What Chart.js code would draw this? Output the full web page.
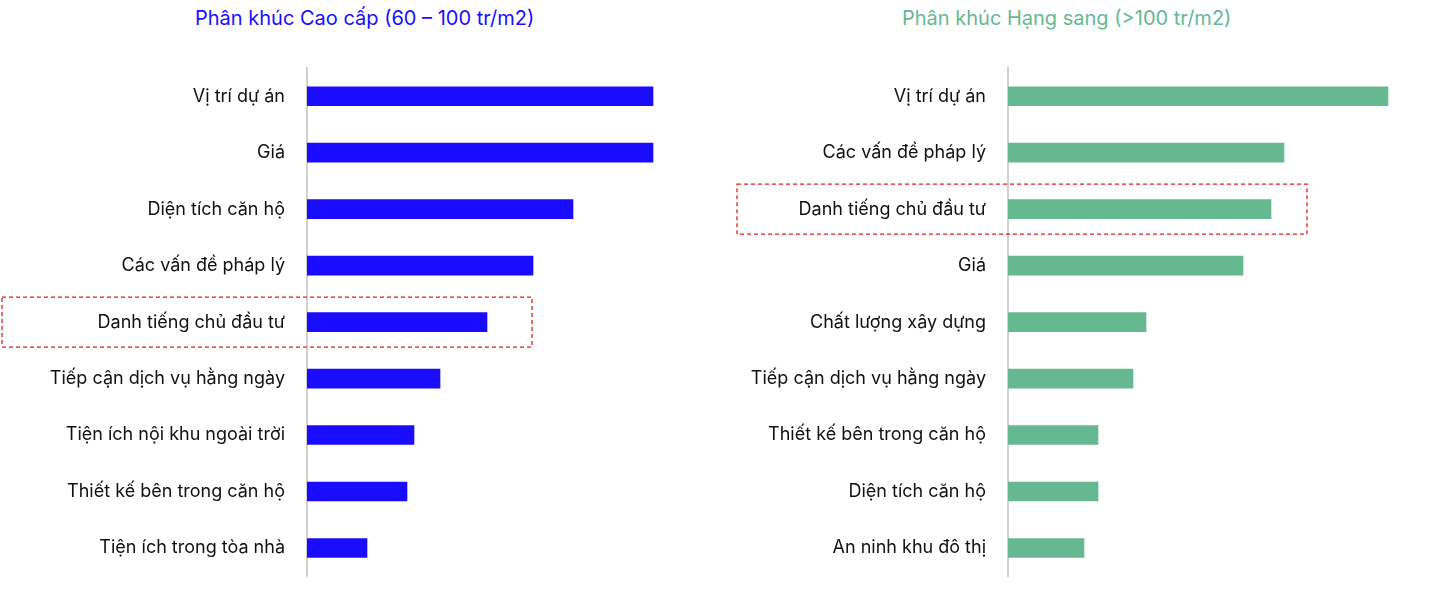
<!DOCTYPE html>
<html><head><meta charset="utf-8">
<script src="https://cdn.jsdelivr.net/npm/chart.js@4"></script>
<style>
body{margin:0;background:#fff;width:1445px;height:609px;position:relative;overflow:hidden;font-family:Inter,sans-serif}
.t{position:absolute;top:6px;font-size:20px;white-space:nowrap}
.w{position:absolute;top:0;height:609px}
</style></head><body>
<div class="t" style="left:195px;color:#1a0dff">Phân khúc Cao cấp (60 – 100 tr/m2)</div>
<div class="t" style="left:902px;color:#66b891">Phân khúc Hạng sang (&gt;100 tr/m2)</div>
<div class="w" style="left:0;width:720px"><canvas id="c1"></canvas></div>
<div class="w" style="left:700px;width:745px"><canvas id="c2"></canvas></div>
<script>
// left: premium segment
const catsCaoCap = ['Vị trí dự án','Giá','Diện tích căn hộ','Các vấn đề pháp lý','Danh tiếng chủ đầu tư','Tiếp cận dịch vụ hằng ngày','Tiện ích nội khu ngoài trời','Thiết kế bên trong căn hộ','Tiện ích trong tòa nhà'];
const valsCaoCap = [346, 346, 266, 226, 180, 133, 107, 100, 60];
// right: luxury segment
const catsHangSang = ['Vị trí dự án','Các vấn đề pháp lý','Danh tiếng chủ đầu tư','Giá','Chất lượng xây dựng','Tiếp cận dịch vụ hằng ngày','Thiết kế bên trong căn hộ','Diện tích căn hộ','An ninh khu đô thị'];
const valsHangSang = [380, 276, 263, 235, 138, 125, 90, 90, 76];

// dashed red box around a highlighted category
const boxPlugin = {
  id: 'box',
  afterDraw(ch, args, o) {
    const y = ch.scales.y.getPixelForValue(o.idx), c = ch.ctx;
    c.save();
    c.strokeStyle = '#e0201b'; c.lineWidth = 1.3; c.setLineDash([4, 3]);
    c.strokeRect(o.x0, y - 25, o.x1 - o.x0, 50);
    c.restore();
  }
};

function make(id, cats, vals, color, yw, max, pad, box) {
  return new Chart(document.getElementById(id), {
    type: 'bar',
    data: { labels: cats, datasets: [{ data: vals, backgroundColor: color, barThickness: 19 }] },
    options: {
      indexAxis: 'y', responsive: true, maintainAspectRatio: false, animation: false,
      layout: { padding: pad },
      plugins: { legend: { display: false }, tooltip: { enabled: false }, box },
      scales: {
        x: { display: false, min: 0, max },
        y: {
          afterFit(s) { s.width = yw; },
          grid: { display: false, drawTicks: false },
          border: { color: '#d0d0d0', width: 2 },
          ticks: { color: '#111', padding: 22, font: { family: 'Inter', size: 18 } }
        }
      }
    },
    plugins: [boxPlugin]
  });
}
make('c1', catsCaoCap, valsCaoCap, '#1a0dff', 307, 413, { top: 68, bottom: 24, right: 0 }, { idx: 4, x0: 2, x1: 532 });
make('c2', catsHangSang, valsHangSang, '#66b891', 308, 432, { top: 68, bottom: 29, right: 5 }, { idx: 2, x0: 37, x1: 607 });
</script></body></html>
